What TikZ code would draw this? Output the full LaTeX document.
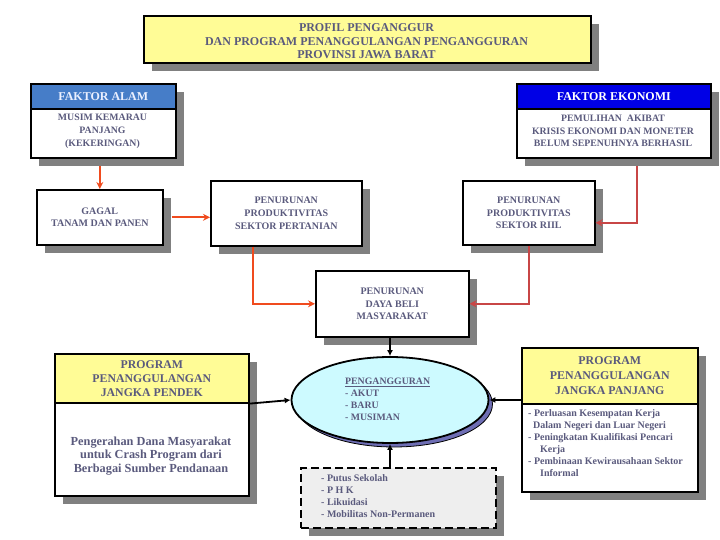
\documentclass[tikz,border=0pt]{standalone}
\usepackage{fontspec}
\setmainfont{Liberation Serif}
\usetikzlibrary{shapes.geometric,shadows,arrows.meta,calc}
\definecolor{tc}{RGB}{90,90,125}
\definecolor{yel}{RGB}{255,252,150}
\definecolor{alamblue}{RGB}{70,125,200}
\definecolor{ekoblue}{RGB}{0,0,230}
\definecolor{orng}{RGB}{240,75,30}
\definecolor{redc}{RGB}{200,70,70}
\definecolor{shad}{RGB}{128,128,128}
\definecolor{cyanf}{RGB}{205,250,255}
\definecolor{rim}{RGB}{110,110,180}
\definecolor{dashfill}{RGB}{238,238,238}
\tikzset{
  frame/.style={draw=black, line width=1.6pt, anchor=north west, inner sep=0pt,
    align=center, text=tc, font=\bfseries\fontsize{10}{12.7}\selectfont, fill=white,
    drop shadow={shadow xshift=8pt, shadow yshift=-8pt, fill=shad, opacity=1}},
  header/.style={draw=black, line width=1.6pt, anchor=north west, inner sep=0pt,
    align=center, font=\bfseries\fontsize{12}{13}\selectfont},
  btext/.style={align=center, text=tc, inner sep=0pt, font=\bfseries\fontsize{9.8}{12.8}\selectfont},
  ltext/.style={align=left, text=tc, inner sep=0pt, anchor=north west, font=\bfseries\fontsize{10}{12}\selectfont},
  oarrow/.style={draw=orng, line width=2.2pt, -{Stealth[length=7pt,width=7pt]}},
  rarrow/.style={draw=redc, line width=2pt, -{Stealth[length=7pt,width=7pt]}},
  karrow/.style={draw=black, line width=1.8pt, -{Latex[length=6pt,width=6pt]}},
}
\begin{document}
\begin{tikzpicture}[x=1pt,y=-1pt]
\useasboundingbox[fill=white] (0,0) rectangle (720,540);

% title
\node[frame, fill=yel, minimum width=447pt, minimum height=47pt] (title) at (143,15) {};
\node[btext, font=\bfseries\fontsize{12}{13.5}\selectfont] (titletxt) at (366.5,41.5)
  {PROFIL PENGANGGUR\\DAN PROGRAM PENANGGULANGAN PENGANGGURAN\\PROVINSI JAWA BARAT};

% faktor alam
\node[frame, minimum width=145pt, minimum height=74pt] (alam) at (30,83) {};
\node[header, fill=alamblue, text={rgb,255:red,235;green,240;blue,255}, minimum width=145pt, minimum height=25pt] (alamhead) at (30,83) {FAKTOR ALAM};
\node[btext] (alamtxt) at (102.5,131) {MUSIM KEMARAU\\PANJANG\\(KEKERINGAN)};

% faktor ekonomi
\node[frame, minimum width=194pt, minimum height=74pt] (ekon) at (516,83) {};
\node[header, fill=ekoblue, text=white, minimum width=194pt, minimum height=25pt] (ekonhead) at (516,83) {FAKTOR EKONOMI};
\node[btext] (ekontxt) at (613,131) {PEMULIHAN\ \ AKIBAT\\KRISIS EKONOMI DAN MONETER\\BELUM SEPENUHNYA BERHASIL};

% middle boxes
\node[frame, minimum width=126pt, minimum height=55pt] (gagal) at (36,189) {GAGAL\\TANAM DAN PANEN};
\node[frame, minimum width=151pt, minimum height=65pt] (pert) at (210,180) {PENURUNAN\\PRODUKTIVITAS\\SEKTOR PERTANIAN};
\node[frame, minimum width=132pt, minimum height=64pt] (riil) at (462,180) {PENURUNAN\\PRODUKTIVITAS\\SEKTOR RIIL};
\node[frame, minimum width=153pt, minimum height=66pt] (daya) at (315,270) {PENURUNAN\\DAYA BELI\\MASYARAKAT};

% program pendek
\node[frame, minimum width=194pt, minimum height=142pt] (pend) at (54,353) {};
\node[header, fill=yel, text=tc, minimum width=194pt, minimum height=49pt,
  font=\bfseries\fontsize{11.8}{14}\selectfont] (pendhead) at (54,353) {PROGRAM\\PENANGGULANGAN\\JANGKA PENDEK};
\node[btext, font=\bfseries\fontsize{12.3}{13.8}\selectfont] (pendtxt) at (151,456)
  {Pengerahan Dana Masyarakat\\untuk Crash Program dari\\Berbagai Sumber Pendanaan};

% program panjang
\node[frame, minimum width=176pt, minimum height=144pt] (panj) at (521,347) {};
\node[header, fill=yel, text=tc, minimum width=176pt, minimum height=56pt,
  font=\bfseries\fontsize{11.9}{15}\selectfont] (panjhead) at (521,347) {PROGRAM\\PENANGGULANGAN\\JANGKA PANJANG};
\node[ltext] (panjtxt) at (528,409)
  {- Perluasan Kesempatan Kerja\\
   \hspace*{0.5em}Dalam Negeri dan Luar Negeri\\
   - Peningkatan Kualifikasi Pencari\\
   \hspace*{1.2em}Kerja\\
   - Pembinaan Kewirausahaan Sektor\\
   \hspace*{1.2em}Informal};

% ellipse
\node[ellipse, fill=rim, draw=black, line width=0.8pt, minimum width=197pt, minimum height=86pt] (ellsh) at (394,404) {};
\node[ellipse, fill=cyanf, draw=black, line width=1.8pt, minimum width=197pt, minimum height=86pt] (ell) at (390,400) {};
\node[ltext, font=\bfseries\fontsize{9.8}{12}\selectfont] (elltxt) at (345,378)
  {\underline{PENGANGGURAN}\\- AKUT\\- BARU\\- MUSIMAN};

% dashed box
\node[frame, fill=dashfill, line width=2pt, dash pattern=on 8pt off 4pt,
  minimum width=195pt, minimum height=60pt] (dbox) at (300,467) {};
\node[ltext] (dtxt) at (321,474)
  {- Putus Sekolah\\- P H K\\- Likuidasi\\- Mobilitas Non-Permanen};

% connectors
\draw[oarrow, shorten <=7pt] (alam.south -| gagal.north) -- (gagal.north);
\draw[oarrow, shorten <=8pt] (gagal.east) -- (gagal.east -| pert.west);
\draw[oarrow] ($(pert.south west)!0.28!(pert.south east)$) |- (daya.west);
\draw[rarrow, shorten <=7pt] ($(ekon.south west)!0.62!(ekon.south east)$) |- ($(riil.east)+(0,10)$);
\draw[rarrow] (riil.south) |- (daya.east);
\draw[karrow] (daya.south -| ell.north) -- (ell.north);
\draw[karrow] (pendhead.south east) -- (ell.west);
\draw[karrow] (ell.east -| panj.west) -- (ell.east);
\draw[karrow] (dbox.north -| ell.south) -- (ell.south);
\end{tikzpicture}
\end{document}
